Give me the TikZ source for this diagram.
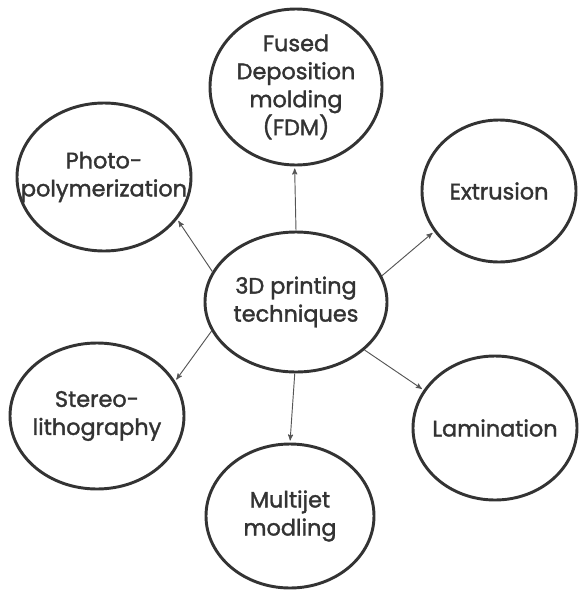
\documentclass[tikz,border=0pt]{standalone}
\usepackage{fontspec}
\setmainfont{Poppins}
\newfontfamily\tagfont[FakeBold=1.6]{Poppins}
\usepackage{xcolor}
\usepackage{tikz}
\usetikzlibrary{shapes.geometric}
\usetikzlibrary{arrows}

\definecolor{ink}{HTML}{333333}
\definecolor{wire}{HTML}{555555}

\tikzset{
  blob/.style 2 args={draw=ink, line width=2.2pt, ellipse, inner sep=0pt,
    minimum width=#1*1.5pt, minimum height=#2*1.5pt},
  tag/.style={align=center, text=ink, font=\tagfont\fontsize{16.8}{21}\selectfont},
  link/.style={->, >=stealth', draw=wire, line width=0.7pt, shorten >=1.5pt}
}

\begin{document}
\begin{tikzpicture}[x=0.75pt,y=-0.75pt]
    \useasboundingbox (0,0) rectangle (579,593);
    % hub and the six techniques
    \node[blob={91}{70}, label={[tag]center:{3D printing\\techniques}}] (hub) at (296,302) {};
    \node[blob={86}{78}, label={[tag]center:{Fused\\Deposition\\molding\\(FDM)}}] (fdm) at (296,87) {};
    \node[blob={87}{74}, label={[tag]center:{Photo-\\polymerization}}] (photo) at (104,177) {};
    \node[blob={77}{71}, label={[tag]center:{Extrusion}}] (extr) at (499,191) {};
    \node[blob={87}{73}, label={[tag]center:{Stereo-\\lithography}}] (stereo) at (97,416) {};
    \node[blob={82}{72}, label={[tag]center:{Lamination}}] (lam) at (495,428) {};
    \node[blob={84}{72}, label={[tag]center:{Multijet\\modling}}] (mjm) at (290,516) {};
    % arrows out of the hub
    \draw[link] (hub.north) -- (fdm.-91);
    \draw[link] (hub.160) -- (photo.-30);
    \draw[link] (hub.17) -- (extr.-148);
    \draw[link] (hub.-161) -- (stereo.24);
    \draw[link] (hub.-35) -- (lam.152);
    \draw[link] (hub.-91) -- (mjm.north);
  \end{tikzpicture}
\end{document}
